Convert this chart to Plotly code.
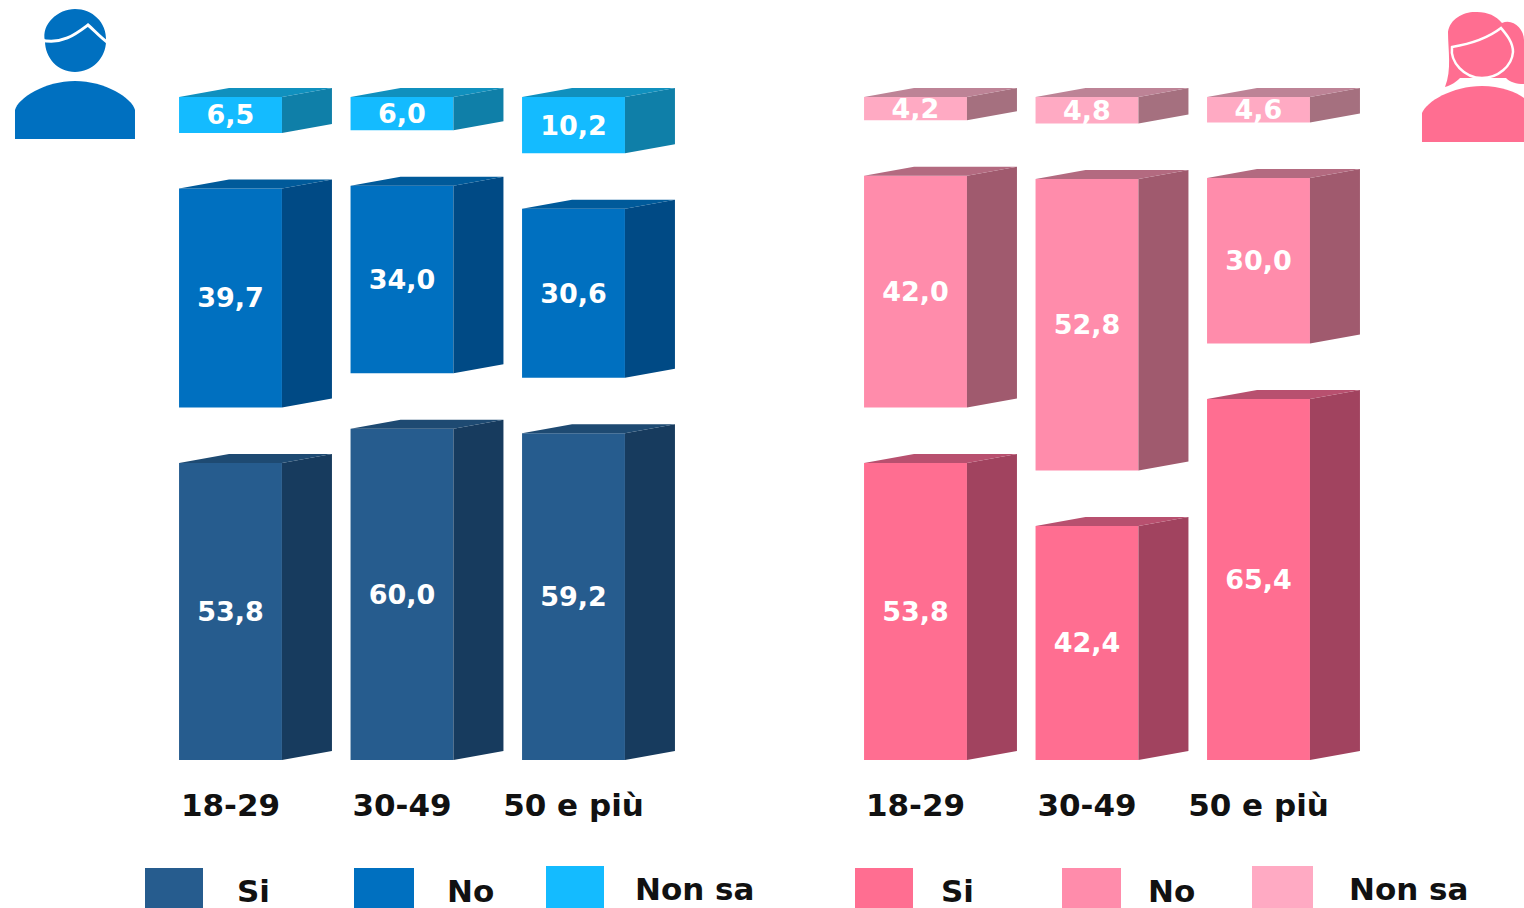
import plotly.graph_objects as go

# Survey shares by age group, in percent
age_groups = ["18-29", "30-49", "50 e più"]
answers = ["Si", "No", "Non sa"]

men_si = [53.8, 60.0, 59.2]
men_no = [39.7, 34.0, 30.6]
men_nonsa = [6.5, 6.0, 10.2]

women_si = [53.8, 42.4, 65.4]
women_no = [42.0, 52.8, 30.0]
women_nonsa = [4.2, 4.8, 4.6]

# Front, side and top face colours for each answer
men_colors = [("#265C8E", "#173B5E", "#1E4A72"),
              ("#0070C0", "#004A85", "#005A9A"),
              ("#14BBFF", "#0F7FA8", "#1090BE")]
women_colors = [("#FF6E91", "#A1435F", "#B8506F"),
                ("#FF8CAB", "#A05A6E", "#B36A80"),
                ("#FFAAC3", "#A5707F", "#BD8396")]

W, H = 1524, 908
FONT = "DejaVu Sans"
PX_PER_UNIT = 5.52
PX_PER_GROUP = 171.5
BASELINE_PX = 760
SEGMENT_GAP = 10.05
BAR_WIDTH = 0.6
DEPTH_X = 50 / PX_PER_GROUP
DEPTH_Y = 9 / PX_PER_UNIT


def label(value):
    return f"{value:.1f}".replace(".", ",")


def add_stack(fig, series, colors, xaxis):
    """Draw separated stacked segments with extruded side and top faces."""
    bases = [0.0] * len(age_groups)
    for name, values, (front, side, top) in zip(answers, series, colors):
        positions = list(range(len(values)))
        fig.add_trace(go.Bar(
            x=positions, y=values, base=bases, width=BAR_WIDTH, name=name,
            marker=dict(color=front, line=dict(width=0)),
            text=[label(v) for v in values], textposition="inside",
            insidetextanchor="middle", textangle=0, constraintext="none",
            textfont=dict(family=FONT, size=27, color="white", weight=700),
            xaxis=xaxis, yaxis="y", showlegend=False, cliponaxis=False,
        ))
        side_x, side_y, top_x, top_y = [], [], [], []
        for i, (v, b) in enumerate(zip(values, bases)):
            right = i + BAR_WIDTH / 2
            left = i - BAR_WIDTH / 2
            side_x += [right, right + DEPTH_X, right + DEPTH_X, right, right, None]
            side_y += [b, b + DEPTH_Y, b + v + DEPTH_Y, b + v, b, None]
            top_x += [left, right, right + DEPTH_X, left + DEPTH_X, left, None]
            top_y += [b + v, b + v, b + v + DEPTH_Y, b + v + DEPTH_Y, b + v, None]
        for xs, ys, color in ((side_x, side_y, side), (top_x, top_y, top)):
            fig.add_trace(go.Scatter(
                x=xs, y=ys, mode="lines", fill="toself", fillcolor=color,
                line=dict(width=0), hoverinfo="skip", showlegend=False,
                xaxis=xaxis, yaxis="y",
            ))
        bases = [b + v + SEGMENT_GAP for b, v in zip(bases, values)]


def path(commands):
    """Build an SVG path in paper coordinates from pixel coordinates."""
    parts = []
    for cmd, *pts in commands:
        coords = " ".join(f"{x / W:.5f},{1 - y / H:.5f}" for x, y in pts)
        parts.append(f"{cmd}{coords}")
    return " ".join(parts)


def icon(commands, fill=None, line=None, width=0):
    shape = dict(type="path", xref="paper", yref="paper", path=path(commands),
                 line=dict(width=width, color=line or "rgba(0,0,0,0)"), layer="above")
    shape["fillcolor"] = fill if fill else "rgba(0,0,0,0)"
    return shape


def legend_entries(entries, colors):
    shapes, notes = [], []
    for name, (x0, x1, top, text_x, text_y), (front, _, _) in zip(answers, entries, colors):
        shapes.append(dict(type="rect", xref="paper", yref="paper",
                           x0=x0 / W, x1=x1 / W, y0=0, y1=1 - top / H,
                           fillcolor=front, line=dict(width=0)))
        notes.append(dict(text=name, xref="paper", yref="paper",
                          x=text_x / W, y=1 - text_y / H, showarrow=False,
                          xanchor="center", yanchor="middle",
                          font=dict(family=FONT, size=31, color="#111111", weight=700)))
    return shapes, notes


fig = go.Figure()
add_stack(fig, [men_si, men_no, men_nonsa], men_colors, "x")
add_stack(fig, [women_si, women_no, women_nonsa], women_colors, "x2")

MEN_BLUE = "#0070C0"
WOMEN_PINK = "#FF6E91"

man_icon = [
    icon([("M", (75, 9)),
          ("C", (92, 9), (107, 22), (106, 41)),
          ("C", (106, 58), (92, 72), (75, 72)),
          ("C", (58, 72), (45, 58), (45, 41)),
          ("C", (41, 24), (58, 9), (75, 9)), ("Z",)], fill=MEN_BLUE),
    icon([("M", (41, 40)), ("C", (62, 45), (76, 34), (88, 25)),
          ("C", (94, 30), (99, 36), (107, 42))], line="white", width=3),
    icon([("M", (15, 139)), ("L", (15, 110)),
          ("C", (18, 98), (45, 81), (75, 81)),
          ("C", (105, 81), (132, 98), (135, 110)),
          ("L", (135, 139)), ("Z",)], fill=MEN_BLUE),
]
woman_icon = [
    icon([("M", (1445, 87)),
          ("C", (1452, 70), (1448, 50), (1448, 32)),
          ("C", (1450, 18), (1465, 11), (1477, 12)),
          ("C", (1488, 12), (1496, 16), (1502, 23)),
          ("C", (1512, 18), (1524, 28), (1524, 40)),
          ("L", (1524, 84)),
          ("C", (1516, 84), (1510, 82), (1506, 78)),
          ("L", (1460, 78)),
          ("C", (1456, 82), (1452, 85), (1445, 87)), ("Z",)], fill=WOMEN_PINK),
    icon([("M", (1452, 47)),
          ("C", (1470, 44), (1488, 38), (1501, 28)),
          ("C", (1506, 34), (1513, 42), (1513, 52)),
          ("C", (1512, 66), (1498, 78), (1482, 78)),
          ("C", (1464, 78), (1450, 62), (1452, 47)), ("Z",)],
         fill=WOMEN_PINK, line="white", width=2.5),
    icon([("M", (1422, 142)), ("L", (1422, 113)),
          ("C", (1426, 102), (1452, 86), (1482, 86)),
          ("C", (1500, 86), (1516, 92), (1524, 98)),
          ("L", (1524, 142)), ("Z",)], fill=WOMEN_PINK),
]

men_legend, men_notes = legend_entries(
    [(145, 203, 868, 253, 891), (354, 414, 868, 470, 891), (546, 604, 866, 694, 889)],
    men_colors)
women_legend, women_notes = legend_entries(
    [(855, 913, 868, 958, 891), (1062, 1121, 868, 1171, 891), (1252, 1313, 866, 1408, 889)],
    women_colors)

tick_font = dict(family=FONT, size=31, color="#111111", weight=700)
common_x = dict(tickmode="array", tickvals=[0, 1, 2], ticktext=age_groups,
                showgrid=False, zeroline=False, showline=False, ticks="",
                tickfont=tick_font, ticklabelstandoff=24, fixedrange=True, anchor="y")

fig.update_layout(
    width=W, height=H, margin=dict(l=0, r=0, t=0, b=0),
    paper_bgcolor="white", plot_bgcolor="white", barmode="overlay", showlegend=False,
    xaxis=dict(domain=[0, 0.5], range=[-230.5 / PX_PER_GROUP, (762 - 230.5) / PX_PER_GROUP], **common_x),
    xaxis2=dict(domain=[0.5, 1], range=[(762 - 915.5) / PX_PER_GROUP, (1524 - 915.5) / PX_PER_GROUP], **common_x),
    yaxis=dict(domain=[(H - BASELINE_PX) / H, 1], range=[0, BASELINE_PX / PX_PER_UNIT],
               visible=False, fixedrange=True),
    shapes=man_icon + woman_icon + men_legend + women_legend,
    annotations=men_notes + women_notes,
)

fig.write_html("out.html")
